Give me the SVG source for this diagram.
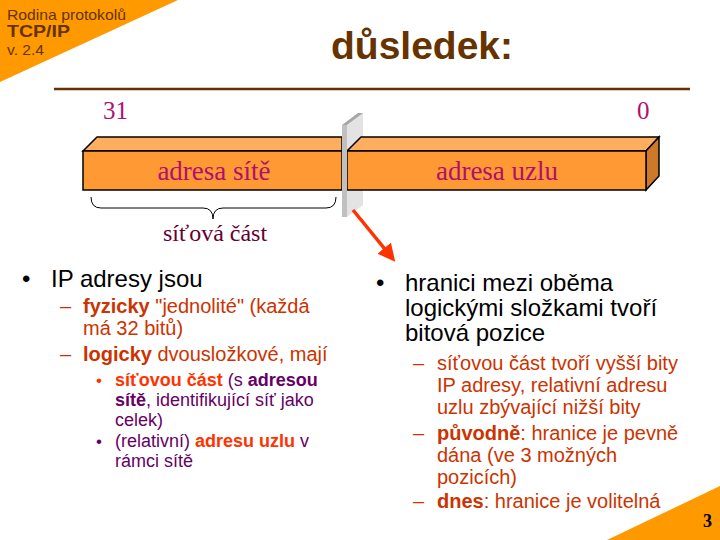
<svg xmlns="http://www.w3.org/2000/svg" width="720" height="540" viewBox="0 0 720 540">
<defs>
<style>
.sans{font-family:"Liberation Sans",Arial,sans-serif}
.serif{font-family:"Liberation Serif","Times New Roman",serif}
.brown{fill:#663300}
.blk{fill:#000}
.red{fill:#CC3300}
.hot{fill:#FF3300}
.pur{fill:#660066}
.mag{fill:#B0106E}
.front{fill:#FF9933;stroke:#000;stroke-width:1.5}
.top{fill:#FFAD5E;stroke:#000;stroke-width:1.5}
.side{fill:#CC7A29;stroke:#000;stroke-width:1.5}
.b{font-weight:bold}
</style>
<marker id="ah" viewBox="0 0 10 10" refX="8" refY="5" markerWidth="5" markerHeight="5" orient="auto" markerUnits="strokeWidth">
<path d="M0,0 L10,5 L0,10 z" fill="#FF3300"/>
</marker>
</defs>
<rect width="720" height="540" fill="#fff"/>
<g id="decor">
<polygon points="0,0 178,0 0,82" fill="#FF9900"/>
<polygon points="720,486 720,540 607,540" fill="#FF9900"/>
<line x1="54" y1="89" x2="690" y2="89" stroke="#663300" stroke-width="2.5"/>
</g>
<g id="header" class="sans brown">
<text x="7" y="20" font-size="15" textLength="119" lengthAdjust="spacingAndGlyphs">Rodina protokolů</text>
<text x="7" y="37" font-size="17" class="b" textLength="63" lengthAdjust="spacingAndGlyphs">TCP/IP</text>
<text x="7" y="55" font-size="15" textLength="37" lengthAdjust="spacingAndGlyphs">v. 2.4</text>
<text x="331" y="59" font-size="39" class="b">důsledek:</text>
</g>
<g id="bitlabels" class="serif mag" font-size="25">
<text x="103" y="119">31</text>
<text x="637" y="119">0</text>
</g>
<g id="plate-back">
<polygon points="347,125 363,113 363,205 347,217" fill="#E3E3E3"/>
</g>
<g id="net-part">
<polygon class="top" points="83,151 97,137 342,137 342,151"/>
<rect class="front" x="83" y="151" width="259" height="39"/>
<text class="serif mag" x="214" y="180" font-size="27" text-anchor="middle">adresa sítě</text>
</g>
<g id="host-part">
<polygon class="top" points="347,151 361,137 659,137 646,151"/>
<polygon class="side" points="646,151 659,137 659,176 646,190"/>
<rect class="front" x="347" y="151" width="299" height="39"/>
<text class="serif mag" x="497" y="180" font-size="27" text-anchor="middle">adresa uzlu</text>
</g>
<g id="plate-front">
<polygon points="342,125 358,113 363,113 347,125" fill="#A6A6A6"/>
<rect x="342" y="125" width="5" height="92" fill="#C0C0C0"/>
</g>
<g id="brace">
<path d="M91,197 Q91,208 101,208 L203,208 Q213,208 213,219 Q213,208 223,208 L326,208 Q336,208 336,197" fill="none" stroke="#000" stroke-width="1"/>
<text class="serif" x="215" y="241" font-size="24" text-anchor="middle" fill="#660033">síťová část</text>
</g>
<g id="connectors">
<line x1="353" y1="210" x2="393" y2="259" stroke="#FF3300" stroke-width="3.5" marker-end="url(#ah)"/>
</g>
<g id="left-text" class="sans">
<text x="22" y="287" font-size="24" class="blk">•</text>
<text x="51" y="287" font-size="24" class="blk">IP adresy jsou</text>
<text x="60" y="313" font-size="20" class="red">–</text>
<text x="83" y="313" font-size="20" class="red"><tspan class="b">fyzicky</tspan> "jednolité" (každá</text>
<text x="83" y="335" font-size="20" class="red">má 32 bitů)</text>
<text x="60" y="361" font-size="20" class="red">–</text>
<text x="83" y="361" font-size="20" class="red"><tspan class="b">logicky</tspan> dvousložkové, mají</text>
<text x="96" y="386" font-size="17" class="hot">•</text>
<text x="115" y="386" font-size="18" class="pur"><tspan class="b hot">síťovou část</tspan> (s <tspan class="b">adresou</tspan></text>
<text x="115" y="406" font-size="18" class="pur"><tspan class="b">sítě</tspan>, identifikující síť jako</text>
<text x="115" y="426" font-size="18" class="pur">celek)</text>
<text x="96" y="447" font-size="17" class="pur">•</text>
<text x="115" y="447" font-size="18" class="pur">(relativní) <tspan class="b hot">adresu uzlu</tspan> v</text>
<text x="115" y="467" font-size="18" class="pur">rámci sítě</text>
</g>
<g id="right-text" class="sans">
<text x="376" y="291" font-size="24" class="blk">•</text>
<text x="405" y="291" font-size="24" class="blk">hranici mezi oběma</text>
<text x="405" y="316" font-size="24" class="blk">logickými složkami tvoří</text>
<text x="405" y="341" font-size="24" class="blk">bitová pozice</text>
<text x="413" y="370" font-size="20" class="red">–</text>
<text x="437" y="370" font-size="20" class="red">síťovou část tvoří vyšší bity</text>
<text x="437" y="392" font-size="20" class="red">IP adresy, relativní adresu</text>
<text x="437" y="414" font-size="20" class="red">uzlu zbývající nižší bity</text>
<text x="413" y="440" font-size="20" class="red">–</text>
<text x="437" y="440" font-size="20" class="red"><tspan class="b">původně</tspan>: hranice je pevně</text>
<text x="437" y="462" font-size="20" class="red">dána (ve 3 možných</text>
<text x="437" y="484" font-size="20" class="red">pozicích)</text>
<text x="413" y="508" font-size="20" class="red">–</text>
<text x="437" y="508" font-size="20" class="red"><tspan class="b">dnes</tspan>: hranice je volitelná</text>
</g>
<g id="page">
<text class="serif b" x="703" y="527" font-size="18" fill="#000">3</text>
</g>
</svg>
